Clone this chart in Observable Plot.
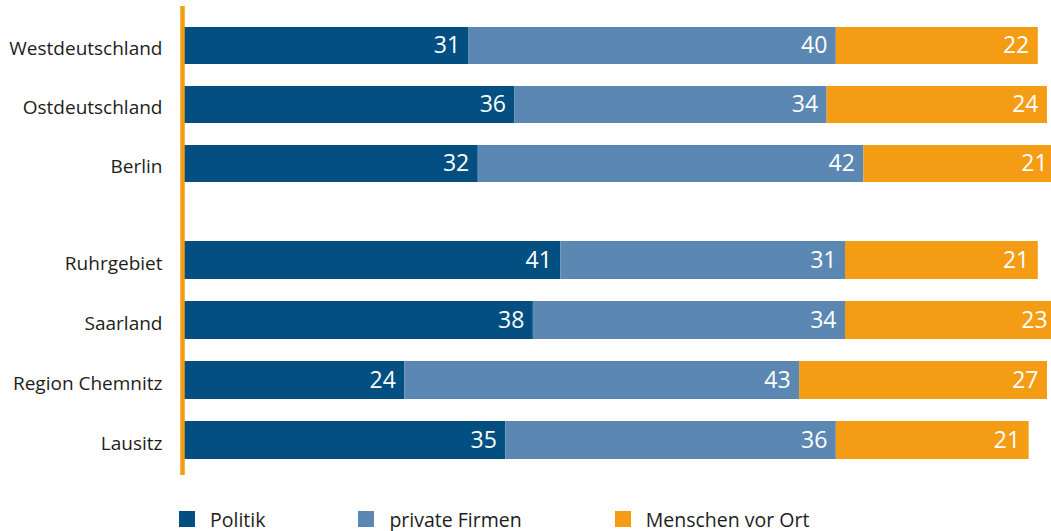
<!DOCTYPE html>
<html>
<head>
<meta charset="utf-8">
<script src="https://cdn.jsdelivr.net/npm/d3@7"></script>
<script src="https://cdn.jsdelivr.net/npm/@observablehq/plot@0.6"></script>
<style>
  html, body { margin: 0; padding: 0; background: #fff; }
  #chart { width: 1051px; }
  #chart svg { display: block; overflow: hidden; }
  .legend { display: flex; align-items: center; margin-top: 32px; padding-left: 179px; height: 24px;
            font-family: 'Open Sans', sans-serif; font-size: 19.5px; color: #1d1d1b; }
  .legend .item { display: flex; align-items: center; margin-right: 93px; }
  .legend .sw { width: 16px; height: 16px; margin-right: 15px; }
</style>
</head>
<body>
<div id="chart"></div>
<script>
// ---- data ----
const regions = ["Westdeutschland", "Ostdeutschland", "Berlin", "Ruhrgebiet", "Saarland", "Region Chemnitz", "Lausitz"];
const regionGroup = [1, 1, 1, 2, 2, 2, 2];
const politik = [31, 36, 32, 41, 38, 24, 35];
const privateFirmen = [40, 34, 42, 31, 34, 43, 36];
const menschenVorOrt = [22, 24, 21, 21, 23, 27, 21];
const seriesNames = ["Politik", "private Firmen", "Menschen vor Ort"];
const seriesColors = ["#034f81", "#5b88b2", "#f49c13"];

// long table
const seriesValues = [politik, privateFirmen, menschenVorOrt];
const rows = [];
seriesNames.forEach((s, si) => {
  regions.forEach((r, ri) => {
    rows.push({region: r, group: regionGroup[ri], series: s, value: seriesValues[si][ri]});
  });
});

const orange = seriesColors[2];

function makeChart(group, opts) {
  const data = rows.filter(d => d.group === group);
  const doms = regions.filter((r, i) => regionGroup[i] === group);
  return Plot.plot({
    width: 1051,
    height: opts.height,
    marginLeft: 184,
    marginRight: 0,
    marginTop: opts.marginTop,
    marginBottom: 0,
    style: {fontFamily: "'Open Sans', sans-serif", fontSize: "19px", color: "#1d1d1b", background: "#fff"},
    x: {domain: [0, 94.44], axis: null},
    y: {domain: doms, range: opts.yRange, padding: 0.367, label: null},
    color: {domain: seriesNames, range: seriesColors},
    marks: [
      Plot.barX(data, Plot.stackX({x: "value", y: "region", fill: "series", order: seriesNames})),
      Plot.textX(data, Plot.stackX2({x: "value", y: "region", z: "series", text: d => String(d.value),
        order: seriesNames, textAnchor: "end", dx: -9, fill: "#fff", fontSize: 23})),
      Plot.ruleX([0], {stroke: orange, strokeWidth: 4.5, dx: -2}),
      Plot.axisY({tickSize: 0, tickPadding: 22, label: null, fontSize: 19, dy: 3})
    ]
  });
}

const chart = document.getElementById("chart");
chart.appendChild(makeChart(1, {height: 210, marginTop: 6, yRange: [5, 205]}));
chart.appendChild(makeChart(2, {height: 265, marginTop: 0, yRange: [7.8, 272]}));

// legend
const legend = document.createElement("div");
legend.className = "legend";
seriesNames.forEach((s, i) => {
  const item = document.createElement("div");
  item.className = "item";
  const sw = document.createElement("div");
  sw.className = "sw";
  sw.style.background = seriesColors[i];
  const label = document.createElement("span");
  label.textContent = s;
  item.appendChild(sw);
  item.appendChild(label);
  legend.appendChild(item);
});
chart.appendChild(legend);
</script>
</body>
</html>
